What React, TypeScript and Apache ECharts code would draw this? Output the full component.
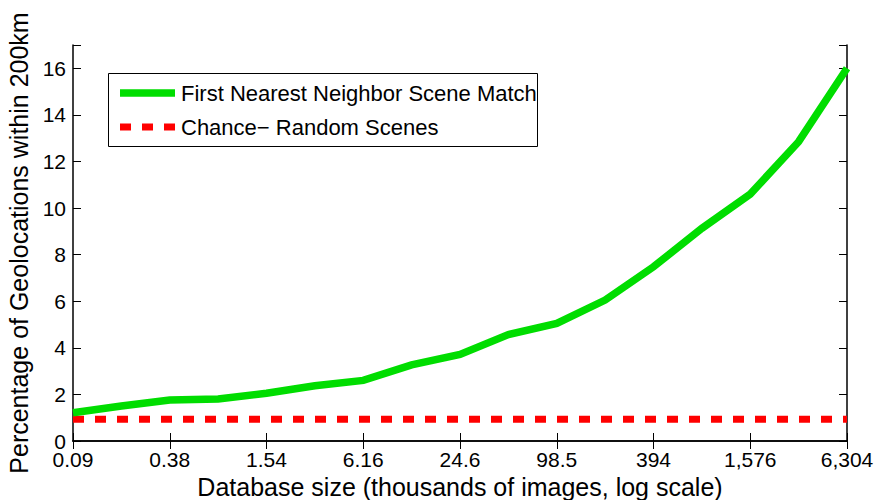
import React, { useEffect, useRef } from "react";
import * as echarts from "echarts";

const sizes = ["0.09", "0.19", "0.38", "0.77", "1.54", "3.08", "6.16", "12.3", "24.6", "49.2", "98.5", "197", "394", "788", "1,576", "3,152", "6,304"];
const sceneMatch = [1.21, 1.5, 1.76, 1.8, 2.05, 2.37, 2.6, 3.27, 3.72, 4.57, 5.05, 6.05, 7.48, 9.13, 10.6, 12.85, 16.0];
const chance = [0.93, 0.93, 0.93, 0.93, 0.93, 0.93, 0.93, 0.93, 0.93, 0.93, 0.93, 0.93, 0.93, 0.93, 0.93, 0.93, 0.93];
const seriesNames = ["First Nearest Neighbor Scene Match", "Chance\u2212 Random Scenes"];

const FONT = "'Liberation Sans', Arial, Helvetica, sans-serif";
const GREEN = "#00dd00";
const RED = "#ff0000";

export default function App() {
  const ref = useRef<HTMLDivElement>(null);
  useEffect(() => {
    if (!ref.current) return;
    const chart = echarts.init(ref.current, undefined, { renderer: "svg" });
    const axisLine = { show: true, lineStyle: { color: "#000", width: 1.5 } };
    chart.setOption({
      animation: false,
      textStyle: { fontFamily: FONT },
      grid: { left: 73, right: 30, top: 45, bottom: 59, outerBoundsMode: "none" },
      xAxis: [
        {
          type: "category",
          data: sizes,
          boundaryGap: false,
          position: "bottom",
          axisLine,
          axisTick: { show: true, inside: true, interval: 1, length: 8, lineStyle: { color: "#000" } },
          axisLabel: { interval: 1, color: "#000", fontSize: 21, lineHeight: 16, margin: 10.5, fontFamily: FONT },
          splitLine: { show: false },
          name: "Database size (thousands of images, log scale)",
          nameLocation: "middle",
          nameGap: 31,
          nameTextStyle: { color: "#000", fontSize: 25, fontFamily: FONT },
        },
        {
          type: "category",
          data: sizes,
          boundaryGap: false,
          position: "top",
          axisLine,
          axisTick: { show: true, inside: true, interval: 1, length: 8, lineStyle: { color: "#000" } },
          axisLabel: { show: false },
          splitLine: { show: false },
        },
      ],
      yAxis: [
        {
          type: "value",
          min: 0,
          max: 17,
          interval: 2,
          position: "left",
          axisLine,
          axisTick: { show: true, inside: true, length: 8, lineStyle: { color: "#000" } },
          axisLabel: {
            color: "#000",
            fontSize: 21,
            lineHeight: 14,
            margin: 7,
            fontFamily: FONT,
            formatter: (v: number) => (v % 2 === 0 && v <= 16 ? String(v) : ""),
          },
          splitLine: { show: false },
          name: "Percentage of Geolocations within 200km",
          nameLocation: "middle",
          nameGap: 38,
          nameTextStyle: { color: "#000", fontSize: 25, fontFamily: FONT },
        },
        {
          type: "value",
          min: 0,
          max: 17,
          interval: 2,
          position: "right",
          axisLine,
          axisTick: { show: true, inside: true, length: 8, lineStyle: { color: "#000" } },
          axisLabel: { show: false },
          splitLine: { show: false },
        },
      ],
      series: [
        {
          name: seriesNames[1],
          type: "line",
          data: chance,
          symbol: "none",
          lineStyle: { color: RED, width: 7, type: [11, 11], cap: "butt" },
          z: 2,
        },
        {
          name: seriesNames[0],
          type: "line",
          data: sceneMatch,
          symbol: "none",
          lineStyle: { color: GREEN, width: 7.5, join: "miter" },
          z: 3,
        },
      ],
      graphic: [
        {
          type: "rect",
          shape: { x: 108.5, y: 73.5, width: 429, height: 73 },
          style: { fill: "#fff", stroke: "#000", lineWidth: 1 },
          z: 10,
        },
        {
          type: "line",
          shape: { x1: 120, y1: 93, x2: 175, y2: 93 },
          style: { stroke: GREEN, lineWidth: 7.5 },
          z: 11,
        },
        {
          type: "line",
          shape: { x1: 120, y1: 127, x2: 175, y2: 127 },
          style: { stroke: RED, lineWidth: 7, lineDash: [11, 11] },
          z: 11,
        },
        {
          type: "text",
          x: 181,
          y: 93,
          style: { text: seriesNames[0], fill: "#000", font: `22px ${FONT}`, verticalAlign: "middle" },
          z: 11,
        },
        {
          type: "text",
          x: 181,
          y: 127,
          style: { text: seriesNames[1], fill: "#000", font: `22px ${FONT}`, verticalAlign: "middle" },
          z: 11,
        },
      ],
    });
    return () => chart.dispose();
  }, []);
  return <div ref={ref} style={{ width: 877, height: 500, position: "absolute", left: 0, top: 0 }} />;
}
